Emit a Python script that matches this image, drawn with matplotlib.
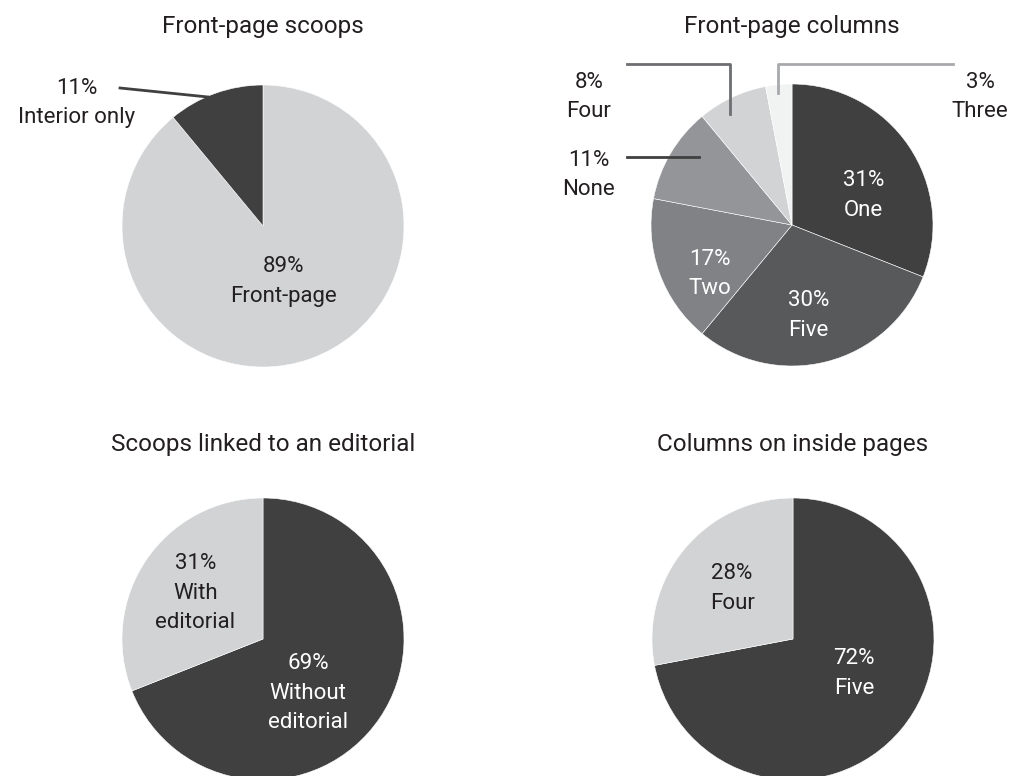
import numpy as np
import matplotlib.pyplot as plt

plt.rcParams['font.family'] = ['Roboto', 'DejaVu Sans']

#%% Data
scoop_labels = ['Front-page', 'Interior only']
scoop_vals = [89, 11]

col_labels = ['One', 'Five', 'Two', 'None', 'Four', 'Three']
col_vals = [31, 30, 17, 11, 8, 3]

edit_labels = ['Without\neditorial', 'With\neditorial']
edit_vals = [69, 31]

inside_labels = ['Five', 'Four']
inside_vals = [72, 28]

titles = ['Front-page scoops', 'Front-page columns',
          'Scoops linked to an editorial', 'Columns on inside pages']

#%% Style
W, H = 1011, 776
DARK = '#404041'
LIGHT = '#d1d3d4'
TXT = '#231f20'
R = 141
FS = 16
LS = 1.55

fig = plt.figure(figsize=(W / 100, H / 100), dpi=100)
ax = fig.add_axes([0, 0, 1, 1])


def py(y):
    # pixel row -> data y
    return H - y


def draw_pie(vals, labels, colors, center, label_r, txt_colors, skip=(), nudge=None):
    cx, cy = center
    wedges, _ = ax.pie(vals, colors=colors, startangle=90, counterclock=False,
                       center=(cx, py(cy)), radius=R,
                       wedgeprops=dict(edgecolor='white', linewidth=0.4))
    total = sum(vals)
    start = 0
    for i, v in enumerate(vals):
        mid = (start + v / 2) / total * 360
        start += v
        if i in skip:
            continue
        if nudge is not None:
            mid += nudge[i]
        a = np.deg2rad(mid)
        x = cx + label_r[i] * R * np.sin(a)
        y = py(cy) + label_r[i] * R * np.cos(a)
        ax.text(x, y, f'{v}%\n{labels[i]}', ha='center', va='center',
                color=txt_colors[i], fontsize=FS, linespacing=LS)
    return wedges


def outside(x, y, v, lab):
    ax.text(x, py(y), f'{v}%\n{lab}', ha='center', va='center',
            color=TXT, fontsize=FS, linespacing=LS)


#%% Top-left
draw_pie(scoop_vals, scoop_labels, [LIGHT, DARK], (263, 226), [0.42, 0],
         [TXT, 'white'], skip=(1,))
outside(77, 103, scoop_vals[1], scoop_labels[1])
ax.plot([120, 208], [py(88), py(97)], color=DARK, lw=2)

#%% Top-right
col_colors = [DARK, '#58595b', '#808285', '#939598', LIGHT, '#f1f2f2']
draw_pie(col_vals, col_labels, col_colors, (792, 225),
         [0.55, 0.65, 0.68, 0, 0, 0], ['white'] * 6, skip=(3, 4, 5),
         nudge=[12, 4, -11, 0, 0, 0])
outside(589, 97, col_vals[4], col_labels[4])
outside(589, 175, col_vals[3], col_labels[3])
outside(980, 97, col_vals[5], col_labels[5])
ax.plot([627, 730, 730], [py(64), py(64), py(114)], color='#6d6e71', lw=2)
ax.plot([627, 699], [py(157), py(157)], color=DARK, lw=2)
ax.plot([953, 778, 778], [py(64), py(64), py(93)], color='#a7a9ac', lw=2)

#%% Bottom-left
draw_pie(edit_vals, edit_labels, [DARK, LIGHT], (263, 639), [0.5, 0.58],
         ['white', TXT], nudge=[16, 0])

#%% Bottom-right
draw_pie(inside_vals, inside_labels, [DARK, LIGHT], (793, 639), [0.5, 0.56],
         ['white', TXT], nudge=[-10, 0])

#%% Titles
for (x, y), t in zip([(263, 26), (792, 26), (263, 444), (793, 444)], titles):
    ax.text(x, py(y), t, ha='center', va='center', color=TXT, fontsize=17.5)

ax.set_xlim(0, W)
ax.set_ylim(0, H)
ax.set_aspect('equal')
ax.axis('off')

fig.savefig('out.png', dpi=100, facecolor='white')
